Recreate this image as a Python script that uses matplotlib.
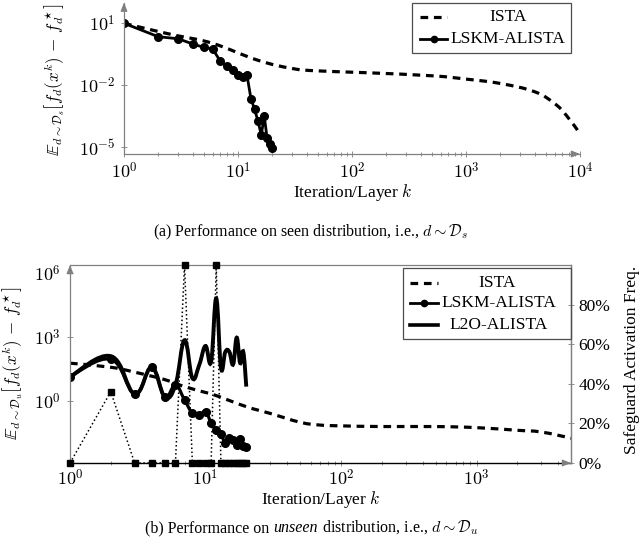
import numpy as np
import matplotlib
matplotlib.use("Agg")
import matplotlib.pyplot as plt
from matplotlib.path import Path
from matplotlib.patches import PathPatch, Rectangle
from matplotlib.lines import Line2D
from matplotlib.ticker import FixedLocator, FuncFormatter, NullFormatter

plt.rcParams['font.family'] = ['Liberation Serif', 'DejaVu Serif']
plt.rcParams['mathtext.fontset'] = 'cm'

# ---------------- data ----------------
# (a) seen distribution
top_lskm_k = list(range(1, 21))
top_lskm_val = [10.0, 2.24, 1.78, 1.0, 0.69, 0.575, 0.145, 0.083, 0.054, 0.031,
                0.025, 0.030, 2.2e-3, 6.8e-4, 1.8e-4, 4.0e-5, 3.2e-4, 2.8e-5, 1.4e-5, 8.9e-6]
top_ista_k = [1, 2, 3, 6, 15, 30, 50, 130, 500, 1000, 2000, 4000, 6000, 7600, 10000]
top_ista_val = [10.0, 4.0, 2.45, 1.07, 0.162, 0.065, 0.050, 0.041, 0.029, 0.020,
                0.0123, 4.9e-3, 1.3e-3, 3.5e-4, 4.6e-5]

# (b) unseen distribution
bot_k = list(range(1, 21))
bot_l2o_val = [13.8, 126, 2.14, 38, 1.58, 5.6, 708, 11.7, 50, 380,
               69, 64600, 35.5, 200, 200, 52, 933, 60, 200, 4.7]
bot_lskm_val = [13.8, 89, 2.14, 38, 1.58, 5.6, 1.12, 0.263, 0.219, 0.316,
                0.0955, 0.0437, 0.0282, 0.0105, 0.0178, 0.0148, 0.0087, 0.0158, 0.0078, 0.0072]
bot_ista_k = [1, 2, 3, 5, 7, 10, 12, 20, 30, 50, 70, 100, 200, 500, 1000, 2000, 3000, 5000]
bot_ista_val = [59, 38, 22.4, 10, 4.7, 2.5, 1.78, 0.54, 0.26, 0.10, 0.074, 0.068,
                0.063, 0.063, 0.056, 0.042, 0.035, 0.018]
safeguard_pct = [0, 36, 0, 0, 0, 0, 100, 0, 0, 0, 0, 100, 0, 0, 0, 0, 0, 0, 0, 0]

top_xticks = [1, 10, 100, 1000, 10000]
top_yticks = [1e1, 1e-2, 1e-5]
bot_xticks = [1, 10, 100, 1000]
bot_yticks = [1e0, 1e3, 1e6]
right_ticks = [0, 20, 40, 60, 80]

GREY = '0.5'
W, H = 640, 547


def fx(p):
    return p / W


def fy(p):
    return 1 - p / H


def smooth_path(xs, ys, t=0.2):
    """Cardinal-spline (TikZ 'smooth'-like) Bezier path, computed in log-log space."""
    P = np.column_stack([np.log10(xs), np.log10(ys)])
    verts = [P[0]]
    codes = [Path.MOVETO]
    n = len(P)
    for i in range(n - 1):
        p0 = P[i - 1] if i > 0 else P[i]
        p1 = P[i]
        p2 = P[i + 1]
        p3 = P[i + 2] if i + 2 < n else P[i + 1]
        verts += [p1 + (p2 - p0) * t, p2 - (p3 - p1) * t, p2]
        codes += [Path.CURVE4] * 3
    return Path(10 ** np.array(verts), codes)


def cm_pow(v, pos):
    e = int(round(np.log10(v)))
    return r'$10^{%d}$' % e


def axis_arrow(ax, xy, xytext):
    ax.annotate('', xy=xy, xytext=xytext, xycoords='axes fraction',
                arrowprops=dict(arrowstyle='-|>,head_length=0.5,head_width=0.2',
                                color=GREY, lw=0.9, shrinkA=0, shrinkB=0),
                annotation_clip=False)


fig = plt.figure(figsize=(6.4, 5.47), dpi=100)

# ---------------- top axes ----------------
ax1 = fig.add_axes([fx(124), fy(154), (580 - 124) / W, (154 - 2.6) / H])
ax1.set_xscale('log')
ax1.set_yscale('log')
ax1.set_xlim(1, 1e4)
ax1.set_ylim(10 ** -5.32, 1e2)
for s in ['top', 'right']:
    ax1.spines[s].set_visible(False)
for s in ['left', 'bottom']:
    ax1.spines[s].set_color(GREY)
    ax1.spines[s].set_linewidth(0.9)
axis_arrow(ax1, (1.0, 0), (0.99, 0))
axis_arrow(ax1, (0, 1.0), (0, 0.97))

ax1.add_patch(PathPatch(smooth_path(top_ista_k, top_ista_val), fill=False,
                        ec='black', lw=2.3, ls=(0, (2.4, 1.8)), transform=ax1.transData))
ax1.plot(top_lskm_k, top_lskm_val, '-o', color='black', lw=2.0, ms=5.5)

ax1.xaxis.set_major_locator(FixedLocator(top_xticks))
ax1.xaxis.set_major_formatter(FuncFormatter(cm_pow))
ax1.xaxis.set_minor_locator(FixedLocator([m * 10 ** d for d in range(4) for m in range(2, 10)]))
ax1.xaxis.set_minor_formatter(NullFormatter())
ax1.yaxis.set_major_locator(FixedLocator(top_yticks))
ax1.yaxis.set_major_formatter(FuncFormatter(cm_pow))
ax1.yaxis.set_minor_locator(FixedLocator([]))
ax1.tick_params(which='major', direction='inout', color=GREY, length=5, width=0.6, labelsize=13)
ax1.tick_params(which='minor', direction='inout', color=GREY, length=3.5, width=0.6)
ax1.tick_params(axis='x', pad=3.5)
ax1.tick_params(axis='y', pad=4)

ax1.set_xlabel('Iteration/Layer $k$', fontsize=12.5)
ax1.xaxis.set_label_coords(0.502, (154 - 192) / 151)
ax1.xaxis.label.set_va('center')
ax1.set_ylabel(r'$\mathbb{E}_{d\sim\mathcal{D}_s}\left[f_d(x^k)\,-\,f_d^\star\right]$', fontsize=12.3)
ax1.yaxis.set_label_coords((55 - 124) / 456, 0.49)
ax1.yaxis.label.set_va('center')

# top legend (drawn by hand to centre entries like pgfplots)
fig.patches.append(Rectangle((fx(412), fy(53)), (571 - 412) / W, 50 / H,
                             transform=fig.transFigure, fill=False, ec='0.3', lw=0.9))
fig.lines.append(Line2D([fx(420), fx(447)], [fy(17.3)] * 2, transform=fig.transFigure,
                        color='black', lw=2.3, ls=(0, (2.4, 1.8))))
fig.lines.append(Line2D([fx(420), fx(447)], [fy(39)] * 2, transform=fig.transFigure,
                        color='black', lw=2.0))
fig.lines.append(Line2D([fx(433.5)], [fy(39)], transform=fig.transFigure,
                        color='black', marker='o', ms=4.5))
fig.text(fx(508), fy(17.3), 'ISTA', ha='center', va='center', fontsize=12.5)
fig.text(fx(508), fy(39), 'LSKM-ALISTA', ha='center', va='center', fontsize=12.5)

fig.text(fx(311), fy(232), r'(a) Performance on seen distribution, i.e., $d\sim\mathcal{D}_s$',
         ha='center', va='center', fontsize=11.5)

# ---------------- bottom axes ----------------
ax2 = fig.add_axes([fx(70), fy(463), 501 / W, 198 / H])
ax2.set_xscale('log')
ax2.set_yscale('log')
ax2.set_xlim(1, 10 ** (501 / 135.5))
ax2.set_ylim(10 ** -2.91, 10 ** 6.375)
for s in ['left', 'top', 'right']:
    ax2.spines[s].set_color(GREY)
    ax2.spines[s].set_linewidth(0.9)
ax2.spines['bottom'].set_color('black')
ax2.spines['bottom'].set_linewidth(1.0)

ax2.add_patch(PathPatch(smooth_path(bot_ista_k, bot_ista_val), fill=False,
                        ec='black', lw=2.3, ls=(0, (2.4, 1.8)), transform=ax2.transData))
ax2.add_patch(PathPatch(smooth_path(bot_k, bot_lskm_val), fill=False,
                        ec='black', lw=2.3, transform=ax2.transData))
ax2.plot(bot_k, bot_lskm_val, 'o', color='black', ms=5.5)
ax2.add_patch(PathPatch(smooth_path(bot_k, bot_l2o_val), fill=False,
                        ec='black', lw=2.8, transform=ax2.transData))

ax2.xaxis.set_major_locator(FixedLocator(bot_xticks))
ax2.xaxis.set_major_formatter(FuncFormatter(cm_pow))
ax2.xaxis.set_minor_locator(FixedLocator([m * 10 ** d for d in range(4) for m in range(2, 10)]))
ax2.xaxis.set_minor_formatter(NullFormatter())
ax2.yaxis.set_major_locator(FixedLocator(bot_yticks))
ax2.yaxis.set_major_formatter(FuncFormatter(cm_pow))
ax2.yaxis.set_minor_locator(FixedLocator([]))
ax2.tick_params(which='major', direction='inout', color=GREY, length=5, width=0.6, labelsize=13)
ax2.tick_params(which='minor', direction='inout', color=GREY, length=3.5, width=0.6)
ax2.tick_params(axis='x', pad=1.5)
ax2.tick_params(axis='y', pad=4)
axis_arrow(ax2, (0, 1.0), (0, 0.97))

ax2.set_xlabel('Iteration/Layer $k$', fontsize=12.5)
ax2.xaxis.set_label_coords(0.5, (463 - 500) / 198)
ax2.xaxis.label.set_va('center')
ax2.set_ylabel(r'$\mathbb{E}_{d\sim\mathcal{D}_u}\left[f_d(x^k)\,-\,f_d^\star\right]$', fontsize=12.3)
ax2.yaxis.set_label_coords((13 - 70) / 501, 0.505)
ax2.yaxis.label.set_va('center')

# right axis: safeguard activation frequency
ax2r = ax2.twinx()
ax2r.set_ylim(0, 100)
ax2r.set_xlim(ax2.get_xlim())
for s in ['left', 'top', 'bottom']:
    ax2r.spines[s].set_visible(False)
ax2r.spines['right'].set_color(GREY)
ax2r.spines['right'].set_linewidth(0.9)
ax2r.plot(bot_k, safeguard_pct, ':', color='black', lw=1.1, marker='s', ms=4.8, clip_on=False)
ax2r.yaxis.set_major_locator(FixedLocator(right_ticks))
ax2r.yaxis.set_major_formatter(FuncFormatter(lambda v, p: '%d%%' % v))
ax2r.tick_params(axis='y', direction='inout', color=GREY, length=5, width=0.6, labelsize=12.5, pad=3)
ax2r.set_ylabel('Safeguard Activation Freq.', fontsize=12.5, rotation=90)
ax2r.yaxis.set_label_coords((632 - 70) / 501, 0.52)
ax2r.yaxis.label.set_va('center')
axis_arrow(ax2r, (1.0, 0), (0.99, 0))

# bottom legend
fig.patches.append(Rectangle((fx(402.7), fy(339.3)), (571 - 402.7) / W, 71 / H,
                             transform=fig.transFigure, fill=False, ec='0.3', lw=0.9))
fig.lines.append(Line2D([fx(410), fx(438)], [fy(283.3)] * 2, transform=fig.transFigure,
                        color='black', lw=2.3, ls=(0, (2.4, 1.8))))
fig.lines.append(Line2D([fx(410), fx(438)], [fy(303.3)] * 2, transform=fig.transFigure,
                        color='black', lw=2.0))
fig.lines.append(Line2D([fx(424)], [fy(303.3)], transform=fig.transFigure,
                        color='black', marker='o', ms=4.5))
fig.lines.append(Line2D([fx(410), fx(438)], [fy(325)] * 2, transform=fig.transFigure,
                        color='black', lw=2.6))
fig.text(fx(497), fy(283.3), 'ISTA', ha='center', va='center', fontsize=12.5)
fig.text(fx(499), fy(303.3), 'LSKM-ALISTA', ha='center', va='center', fontsize=12.5)
fig.text(fx(499), fy(325), 'L2O-ALISTA', ha='center', va='center', fontsize=12.5)

# caption (b) with italic word
cap_fs = 11.5
sp = 0.25 * cap_fs
t1 = fig.text(0.2, fy(532), '(b) Performance on', ha='left', va='baseline', fontsize=cap_fs)
t2 = ax2.annotate('unseen', xy=(1, fy(532)), xycoords=(t1, 'figure fraction'),
                  xytext=(sp, 0), textcoords='offset points', ha='left', va='baseline',
                  fontsize=cap_fs, style='italic', annotation_clip=False)
t3 = ax2.annotate(r'distribution, i.e., $d\sim\mathcal{D}_u$', xy=(1, fy(532)),
                  xycoords=(t2, 'figure fraction'), xytext=(sp, 0), textcoords='offset points',
                  ha='left', va='baseline', fontsize=cap_fs, annotation_clip=False)
fig.canvas.draw()
r = fig.canvas.get_renderer()
x_left = t1.get_window_extent(r).x0
x_right = t3.get_window_extent(r).x1
shift = 311.5 - (x_left + x_right) / 2
t1.set_x(t1.get_position()[0] + shift / W)

fig.savefig('out.png', dpi=100)
